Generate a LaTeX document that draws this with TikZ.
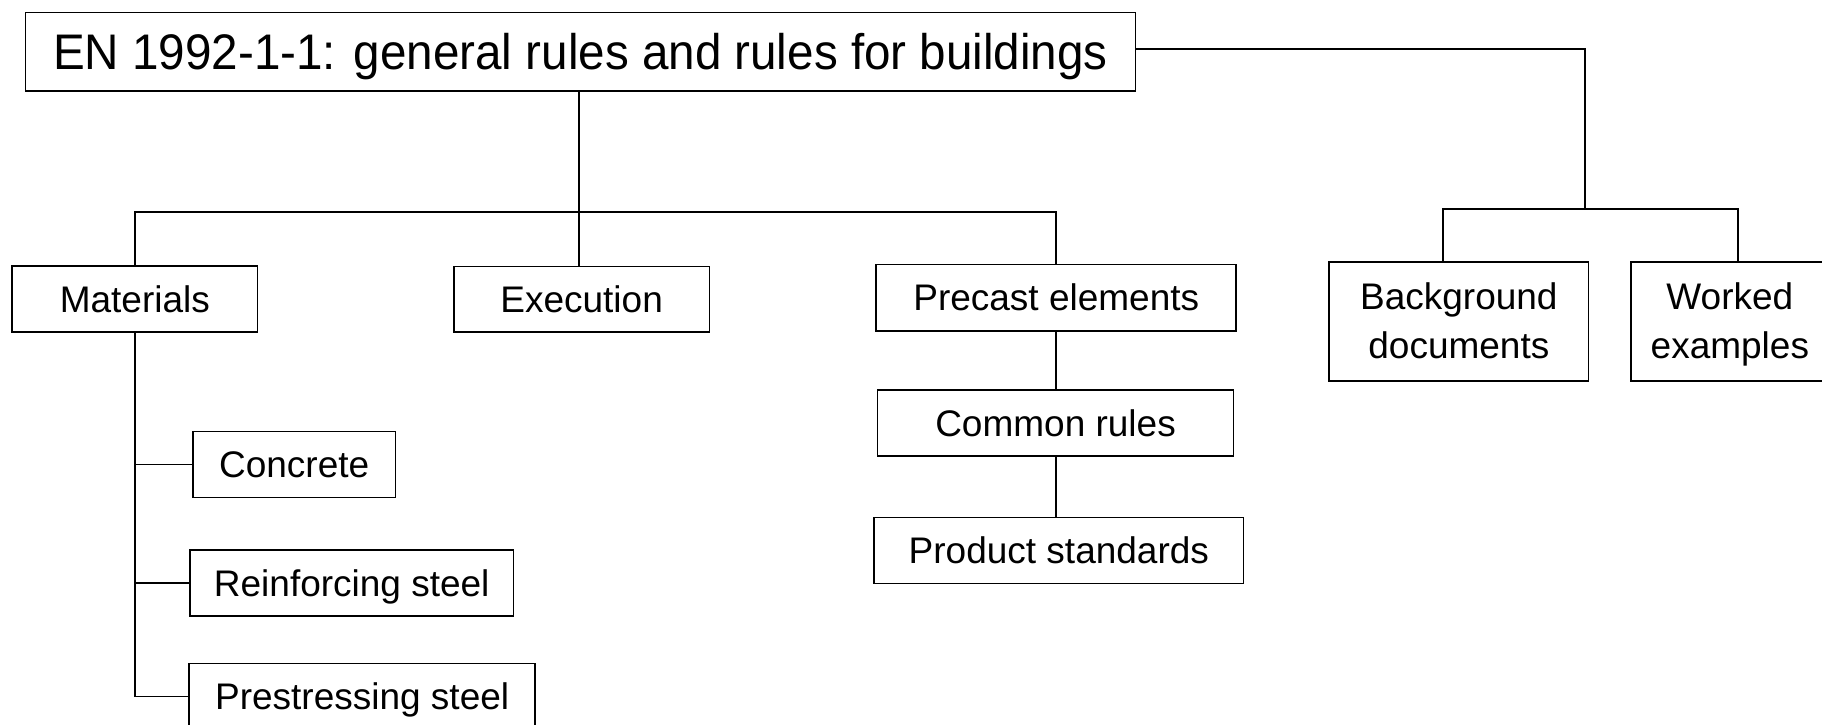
\documentclass[tikz,border=0pt]{standalone}
\usepackage{fontspec}
\setmainfont{Liberation Sans}
\newfontfamily\titlefont[FakeStretch=0.952]{Liberation Sans}
\begin{document}
\begin{tikzpicture}[x=1pt,y=-1pt,
  line width=1.7pt,
  box/.style={draw, anchor=north west, inner sep=0pt, minimum width=#1,
    font=\fontsize{37}{49.4}\selectfont, text height=26.5pt, text depth=0pt},
  box/.default=100pt,
  twobox/.style={draw, anchor=north west, inner sep=0pt, minimum width=#1,
    minimum height=119pt, align=center,
    font=\fontsize{37}{49.4}\selectfont, text height=75pt, text depth=0pt},
]
\useasboundingbox (0,0) rectangle (1822,724);
% nodes
\node[draw, anchor=north west, inner sep=0pt, minimum width=1110pt, minimum height=78.3pt,
  font=\titlefont\fontsize{50}{60}\selectfont, text height=36pt, text depth=0pt]
  (title) at (24.6,11.7) {EN 1992-1-1: general rules and rules for buildings};
\node[box=245.5pt, minimum height=66pt] (mat) at (11.2,265) {Materials};
\node[box=255.5pt, minimum height=65.5pt] (exe) at (453,265.5) {Execution};
\node[box=360pt, minimum height=66.5pt] (pre) at (875.4,263.5) {Precast elements};
\node[box=356pt, minimum height=66pt] (com) at (876.7,389.3) {Common rules};
\node[box=369.4pt, minimum height=66pt] (prod) at (873.3,516.7) {Product standards};
\node[box=202.6pt, minimum height=66pt] (conc) at (192,430.7) {Concrete};
\node[box=323.2pt, minimum height=66pt] (reinf) at (189.3,549) {Reinforcing steel};
\node[box=346pt, minimum height=66pt] (prest) at (188.3,662.7) {Prestressing steel};
\node[twobox=259.4pt] (bg) at (1328.3,261) {Background\\documents};
\node[twobox=198pt] (work) at (1630,261) {Worked\\examples};
% helper coordinates
\coordinate (t) at (579,212);
\coordinate (bus) at (0,212);
\coordinate (pc) at (1056,0);
\coordinate (r1) at (1585.3,49);
\coordinate (j) at (1585.3,209);
\coordinate (bgc) at (1443,209);
\coordinate (wkc) at (1737.7,209);
% connectors
\draw (title.south -| t) -- (exe.north -| t);
\draw (mat.north) |- (pre.north |- bus) -- (pre.north);
\draw (pre.south -| pc) -- (com.north -| pc);
\draw (com.south -| pc) -- (prod.north -| pc);
\draw (mat.south) |- (prest.west);
\draw (mat.south |- conc.west) -- (conc.west);
\draw (mat.south |- reinf.west) -- (reinf.west);
\draw (title.east |- r1) -- (r1) -- (j);
\draw (bg.north -| bgc) -- (bgc) -- (wkc) -- (work.north -| wkc);
\end{tikzpicture}
\end{document}
